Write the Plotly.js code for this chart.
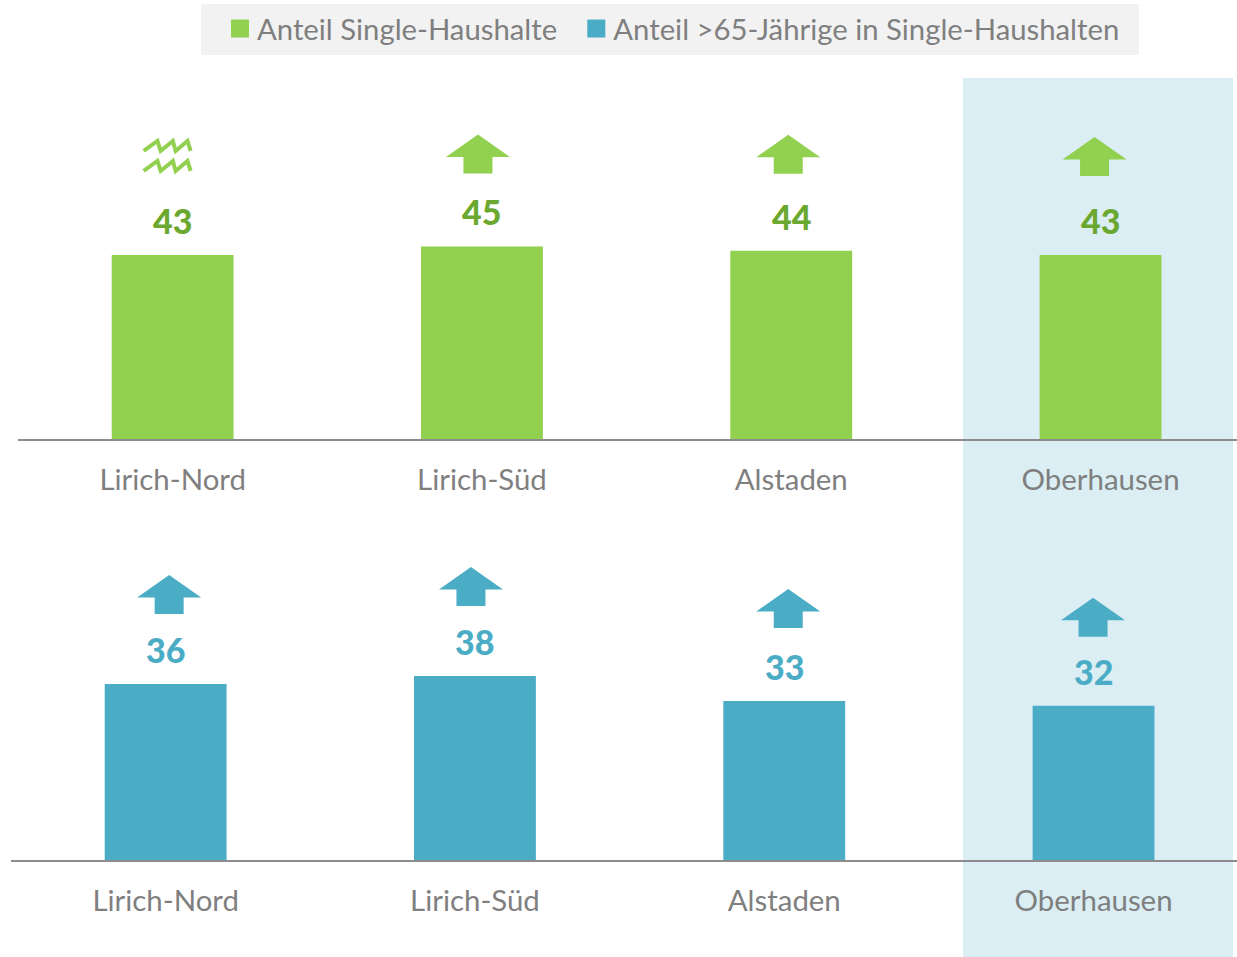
<!DOCTYPE html>
<html><head><meta charset="utf-8">
<script src="https://cdn.plot.ly/plotly-3.0.1.min.js"></script>
<style>html,body{margin:0;padding:0;background:#fff}</style></head>
<body><div id="chart" style="width:1237px;height:957px"></div>
<script>
const categories = ['Lirich-Nord','Lirich-Süd','Alstaden','Oberhausen'];
const singleShare = [43,45,44,43];
const seniorShare = [36.5,38.2,33,32];
const singleLabels = ['43','45','44','43'];
const seniorLabels = ['36','38','33','32'];
const singleTrend = ['wave','up','up','up'];
const seniorTrend = ['up','up','up','up'];
const seriesNames = ['Anteil Single-Haushalte\u00a0\u2009','Anteil >65-Jährige in Single-Haushalten'];

const W=1237,H=957, GREEN='#92d050', BLUE='#4bacc6', DGREEN='#6aa82f', GREY='#7f7f7f';
const FONT='Lato, Carlito, sans-serif';
const ARROW='M-14.5,0 L14.5,0 L14.5,16.5 L32,16.5 L0,39 L-32,16.5 L-14.5,16.5 Z';
const WAVE=[0,20].map(d=>'M-23.5,'+(d)+' L-9.7,'+(d+10)+' L-6.5,'+d+' L5.7,'+(d+10)+' L8.5,'+d+' L20.3,'+(d+10)+' L23.5,'+d).join(' ');

function trendShape(kind,i,v,xr,yr,color,dx,lift){
  const wave=kind==='wave';
  const path=(wave?WAVE:ARROW).replace(/(-?[\d.]+),(-?[\d.]+)/g,(m,a,b)=>(+a+dx)+','+(+b+lift));
  return {type:'path',xref:xr,yref:yr,xsizemode:'pixel',ysizemode:'pixel',xanchor:i,yanchor:v,path,
    fillcolor:wave?'rgba(0,0,0,0)':color,line:wave?{color,width:4}:{width:0},layer:'above'};
}
const dxTop=[-5.5,-4,-3,-6], liftTop=[84,73,77,79];
const dxBot=[3.5,-4,4,-0.5], liftBot=[70,70,73,69];
const shapes=[
 {type:'rect',xref:'paper',yref:'paper',x0:963/W,x1:1233/W,y0:0,y1:1-78/H,fillcolor:'#daeef3',line:{width:0},layer:'below'},
 {type:'rect',xref:'paper',yref:'paper',x0:201/W,x1:1139/W,y0:1-55/H,y1:1-4/H,fillcolor:'#f2f2f2',line:{width:0},layer:'below'},
 ...singleTrend.map((k,i)=>trendShape(k,i,singleShare[i],'x','y',GREEN,dxTop[i],liftTop[i])),
 ...seniorTrend.map((k,i)=>trendShape(k,i,seniorShare[i],'x2','y2',BLUE,dxBot[i],liftBot[i])),
];
const idx=categories.map((_,i)=>i);
const labelAnn=(labs,vals,xr,yr,color)=>labs.map((t,i)=>({text:t,x:i,y:vals[i],xref:xr,yref:yr,xanchor:'center',yanchor:'bottom',yshift:12,showarrow:false,
   font:{family:FONT,size:34,weight:900,color}}));
const axisX=(range,domain,anchor)=>({range,domain,anchor,tickmode:'array',tickvals:idx,ticktext:categories,showgrid:false,zeroline:false,showline:true,
   linecolor:'#8c8c8c',linewidth:2,ticks:'outside',ticklen:14,tickwidth:0,tickcolor:'rgba(0,0,0,0)',tickfont:{family:FONT,size:29.4,color:GREY}});
const layout={width:W,height:H,margin:{l:0,r:0,t:0,b:0,pad:0},paper_bgcolor:'#fff',plot_bgcolor:'rgba(0,0,0,0)',bargap:0.606,
 showlegend:true,
 legend:{orientation:'h',x:217/W,xanchor:'left',y:1-29/H,yanchor:'middle',bgcolor:'rgba(0,0,0,0)',
   font:{family:FONT,size:29.3,color:GREY},traceorder:'normal'},
 xaxis:axisX([-0.5,(W-18)/309.3-0.5],[18/W,1],'y'),
 xaxis2:axisX([-0.5,(W-11)/309.3-0.5],[11/W,1],'y2'),
 yaxis:{range:[0,100],domain:[1-439/H,1-11/H],visible:false,fixedrange:true},
 yaxis2:{range:[0,70],domain:[1-860/H,1-860/H+337.4/H],visible:false,fixedrange:true},
 shapes,
 annotations:[...labelAnn(singleLabels,singleShare,'x','y',DGREEN),...labelAnn(seniorLabels,seniorShare,'x2','y2',BLUE)]
};
const traces=[
 {type:'bar',name:seriesNames[0],x:idx,y:singleShare,xaxis:'x',yaxis:'y',marker:{color:GREEN},hoverinfo:'x+y'},
 {type:'bar',name:seriesNames[1],x:idx,y:seniorShare,xaxis:'x2',yaxis:'y2',marker:{color:BLUE},hoverinfo:'x+y'}
];
Plotly.newPlot('chart',traces,layout,{displayModeBar:false,responsive:false}).then(()=>{
  document.querySelectorAll('.legendpoints path').forEach(p=>p.setAttribute('d','M12,9H-6V-9H12Z'));
});
</script></body></html>
